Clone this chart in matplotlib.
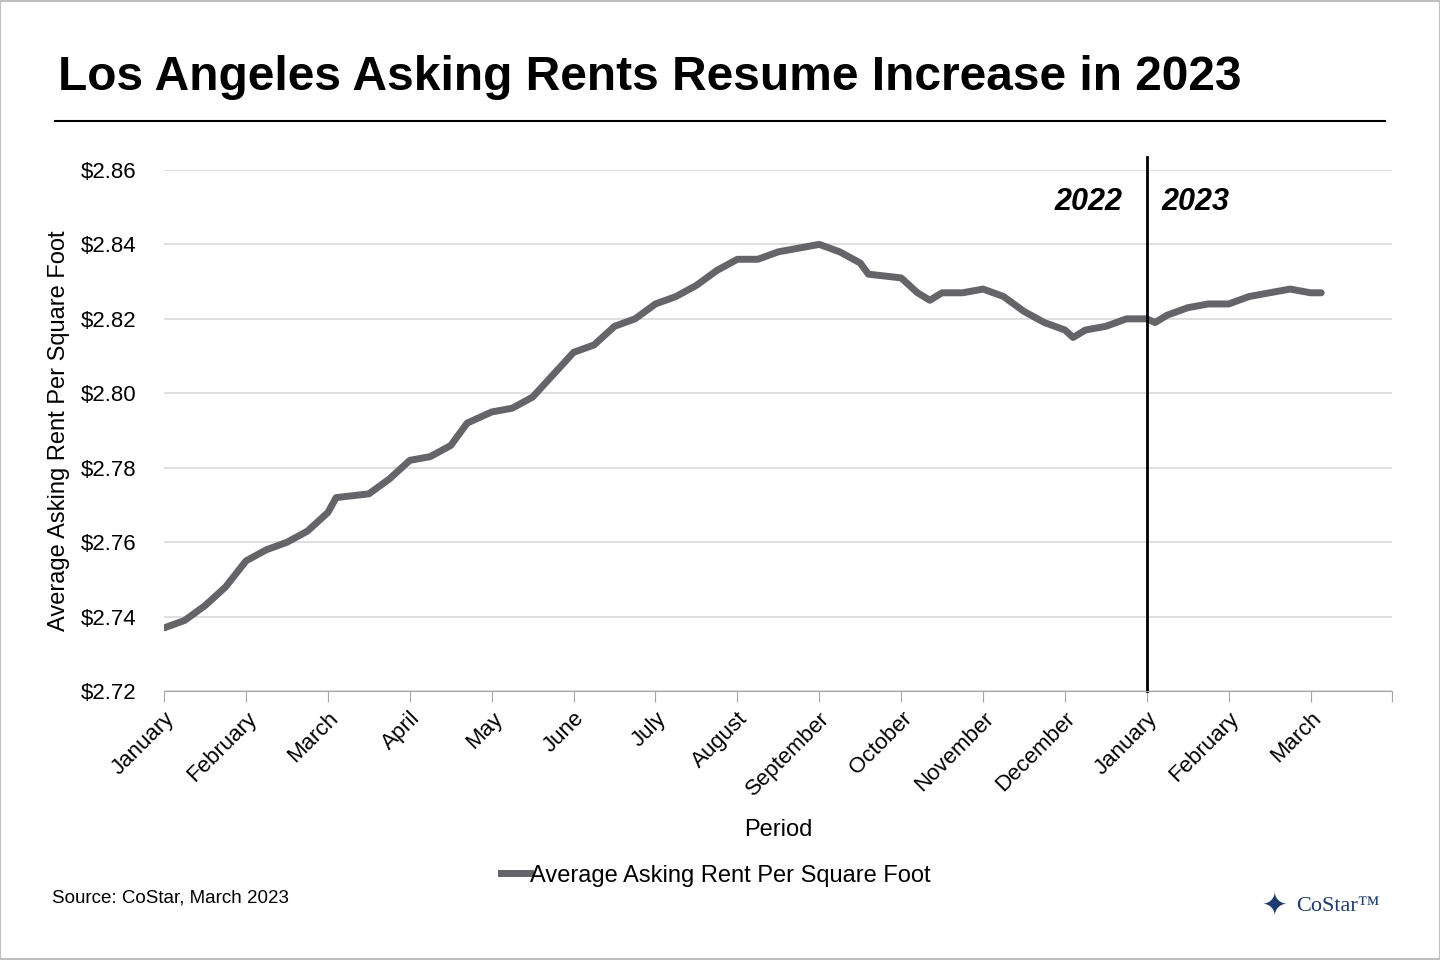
import matplotlib.pyplot as plt
from matplotlib.lines import Line2D

months = ['January', 'February', 'March', 'April', 'May', 'June', 'July', 'August',
          'September', 'October', 'November', 'December', 'January', 'February', 'March']
x_pos = [0, 0.25, 0.5, 0.75, 1.0, 1.25, 1.5, 1.75, 2.0, 2.1, 2.5, 2.75, 3.0, 3.25, 3.5, 3.7,
         4.0, 4.25, 4.5, 4.75, 5.0, 5.25, 5.5, 5.75, 6.0, 6.25, 6.5, 6.75, 7.0, 7.25, 7.5,
         7.75, 8.0, 8.25, 8.5, 8.6, 9.0, 9.2, 9.35, 9.5, 9.75, 10.0, 10.25, 10.5, 10.75,
         11.0, 11.1, 11.25, 11.5, 11.75, 12.0, 12.1, 12.25, 12.5, 12.75, 13.0, 13.25, 13.5,
         13.75, 14.0, 14.13]
rent = [2.737, 2.739, 2.743, 2.748, 2.755, 2.758, 2.760, 2.763, 2.768, 2.772, 2.773, 2.777,
        2.782, 2.783, 2.786, 2.792, 2.795, 2.796, 2.799, 2.805, 2.811, 2.813, 2.818, 2.820,
        2.824, 2.826, 2.829, 2.833, 2.836, 2.836, 2.838, 2.839, 2.840, 2.838, 2.835, 2.832,
        2.831, 2.827, 2.825, 2.827, 2.827, 2.828, 2.826, 2.822, 2.819, 2.817, 2.815, 2.817,
        2.818, 2.820, 2.820, 2.819, 2.821, 2.823, 2.824, 2.824, 2.826, 2.827, 2.828, 2.827,
        2.827]
y_ticks = [2.72, 2.74, 2.76, 2.78, 2.80, 2.82, 2.84, 2.86]

plt.rcParams['font.family'] = ['Liberation Sans', 'DejaVu Sans']
fig = plt.figure(figsize=(14.4, 9.6), dpi=100)
ax = fig.add_axes([0.114, 0.280, 0.853, 0.543])

ax.plot(x_pos, rent, color='#646469', lw=5, solid_capstyle='round')
ax.set_xlim(0, 15)
ax.set_ylim(2.72, 2.86)
ax.set_yticks(y_ticks)
ax.set_yticklabels(['$%.2f' % v for v in y_ticks], fontsize=16)
ax.set_xticks(range(16))
ax.set_xticklabels(months + [''], rotation=45, ha='right', rotation_mode='anchor', fontsize=16)
ax.grid(axis='y', color='#d9d9d9', lw=1.2)
ax.set_axisbelow(True)
for s in ['left', 'right', 'top']:
    ax.spines[s].set_visible(False)
ax.spines['bottom'].set_color('#a6a6a6')
ax.tick_params(axis='y', length=0, pad=20)
ax.tick_params(axis='x', length=8, color='#a6a6a6', pad=4)
ax.set_xlabel('Period', fontsize=17, labelpad=14)
ax.set_ylabel('Average Asking Rent Per Square Foot', fontsize=17, labelpad=8)

ax.plot([12, 12], [2.72, 2.8634], color='black', lw=2, clip_on=False)
ax.text(11.7, 2.8515, '2022', fontsize=22, fontweight='bold', style='italic', ha='right', va='center')
ax.text(12.18, 2.8515, '2023', fontsize=22, fontweight='bold', style='italic', ha='left', va='center')

fig.text(0.04, 0.919, 'Los Angeles Asking Rents Resume Increase in 2023', fontsize=34.5,
         fontweight='bold', va='center')
fig.add_artist(Line2D([0.038, 0.962], [0.874, 0.874], color='black', lw=1.5))
fig.add_artist(Line2D([0.0, 1, 1, 0.0, 0.0], [0.001, 0.001, 0.999, 0.999, 0.001],
                      color='#bfbfbf', lw=1.5))

fig.legend(handles=[Line2D([], [], color='#646469', lw=5)],
           labels=['Average Asking Rent Per Square Foot'], loc='center',
           bbox_to_anchor=(0.497, 0.088), frameon=False, fontsize=17,
           handlelength=1.2, handletextpad=0)
fig.text(0.036, 0.065, 'Source: CoStar, March 2023', fontsize=13.5, va='center')
fig.text(0.885, 0.056, '\u2726', fontsize=22, color='#1f3a6e', va='center', ha='center')
fig.text(0.9, 0.056, 'CoStar\u2122', fontsize=16, family='Liberation Serif', color='#1f3a6e',
         va='center')

fig.savefig('out.png', dpi=100)
